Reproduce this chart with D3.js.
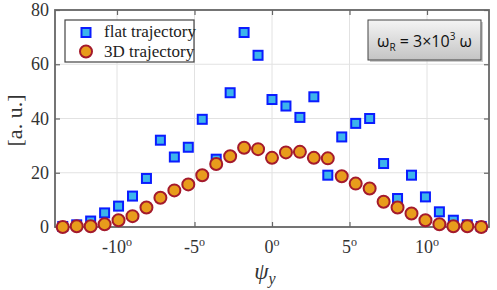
<!DOCTYPE html>
<html>
<head>
<meta charset="utf-8">
<script src="https://cdn.jsdelivr.net/npm/d3@7"></script>
<style>
  html, body { margin: 0; padding: 0; background: #fff; }
  svg { display: block; }
  text { font-family: "Liberation Serif", "Times New Roman", serif; fill: #333; }
</style>
</head>
<body>
<div id="chart"></div>
<script>
// angle psi_y in degrees
const angles = [-13.5, -12.6, -11.7, -10.8, -9.9, -9.0, -8.1, -7.2, -6.3, -5.4, -4.5, -3.6, -2.7, -1.8, -0.9,
  0, 0.9, 1.8, 2.7, 3.6, 4.5, 5.4, 6.3, 7.2, 8.1, 9.0, 9.9, 10.8, 11.7, 12.6, 13.5];
const flatVals = [0.2, 0.8, 2.2, 5.2, 7.7, 11.4, 17.9, 32.0, 25.8, 29.4, 39.7, 25.0, 49.5, 71.7, 63.3,
  47.0, 44.6, 40.4, 48.0, 19.1, 33.2, 38.2, 40.0, 23.4, 10.5, 19.1, 11.1, 5.6, 2.5, 0.8, 0.2];
const vals3D = [0, 0.3, 0.3, 1.0, 2.5, 4.0, 7.2, 10.8, 13.5, 15.7, 19.1, 23.2, 26.1, 29.2, 28.7,
  25.5, 27.5, 27.7, 25.5, 25.3, 18.7, 16.0, 14.2, 9.3, 7.2, 5.0, 2.5, 1.0, 0.3, 0.3, 0];
const xTicks = [-10, -5, 0, 5, 10];
const yTicks = [0, 20, 40, 60, 80];
const seriesNames = ['flat trajectory', '3D trajectory'];

const W = 497, H = 290;
const M = {l: 55, r: 8, t: 10, b: 63};

const svg = d3.select('#chart').append('svg')
  .attr('width', W).attr('height', H);

const x = d3.scaleLinear().domain([-14, 14]).range([M.l, W - M.r]);
const y = d3.scaleLinear().domain([0, 80]).range([H - M.b, M.t]);

const defs = svg.append('defs');
const grad = defs.append('linearGradient').attr('id', 'boxGrad')
  .attr('x1', 0).attr('y1', 0).attr('x2', 0).attr('y2', 1);
grad.append('stop').attr('offset', '0%').attr('stop-color', '#f4f4f4');
grad.append('stop').attr('offset', '100%').attr('stop-color', '#c4c4c4');

// grid
const grid = svg.append('g').attr('stroke', '#e2e2e2').attr('stroke-width', 1);
grid.selectAll('.gx').data(xTicks).enter().append('line')
  .attr('x1', d => x(d)).attr('x2', d => x(d))
  .attr('y1', y(0)).attr('y2', y(80));
grid.selectAll('.gy').data(yTicks).enter().append('line')
  .attr('x1', x(-14)).attr('x2', x(14))
  .attr('y1', d => y(d)).attr('y2', d => y(d));

// axes with inward ticks
const axColor = '#666';
const styleAxis = g => {
  g.select('.domain').remove();
  g.selectAll('.tick line').attr('stroke', axColor).attr('stroke-width', 1.2);
  g.selectAll('.tick text').remove();
};
svg.append('g').attr('transform', `translate(0,${y(0)})`)
  .call(d3.axisBottom(x).tickValues(xTicks).tickSizeInner(-5).tickSizeOuter(0)).call(styleAxis);
svg.append('g').attr('transform', `translate(0,${y(80)})`)
  .call(d3.axisTop(x).tickValues(xTicks).tickSizeInner(-5).tickSizeOuter(0)).call(styleAxis);
svg.append('g').attr('transform', `translate(${x(-14)},0)`)
  .call(d3.axisLeft(y).tickValues(yTicks).tickSizeInner(-5).tickSizeOuter(0)).call(styleAxis);
svg.append('g').attr('transform', `translate(${x(14)},0)`)
  .call(d3.axisRight(y).tickValues(yTicks).tickSizeInner(-5).tickSizeOuter(0)).call(styleAxis);

svg.append('rect')
  .attr('x', x(-14)).attr('y', y(80))
  .attr('width', x(14) - x(-14)).attr('height', y(0) - y(80))
  .attr('fill', 'none').attr('stroke', axColor).attr('stroke-width', 1.8);

// tick labels
svg.selectAll('.ylab').data(yTicks).enter().append('text')
  .attr('x', x(-14) - 6).attr('y', d => y(d) + 6)
  .attr('text-anchor', 'end').attr('font-size', 18)
  .text(d => d);

const xl = svg.selectAll('.xlab').data(xTicks).enter().append('text')
  .attr('x', d => x(d)).attr('y', y(0) + 26)
  .attr('text-anchor', 'middle').attr('font-size', 18);
xl.append('tspan').text(d => d < 0 ? '-' + Math.abs(d) : d);
xl.append('tspan').attr('font-size', 12).attr('dy', -7).text('o');

// axis titles
svg.append('text')
  .attr('transform', `translate(22,${(y(0) + y(80)) / 2 + 2}) rotate(-90)`)
  .attr('text-anchor', 'middle').attr('font-size', 22)
  .text('[a. u.]');

const xt = svg.append('text')
  .attr('x', 265).attr('y', 279)
  .attr('text-anchor', 'middle').attr('font-size', 23).attr('font-style', 'italic');
xt.append('tspan').text('ψ');
xt.append('tspan').attr('font-size', 16).attr('dy', 5).text('y');

// markers
svg.append('g').selectAll('rect').data(angles).enter().append('rect')
  .attr('x', (d, i) => x(d) - 4.5).attr('y', (d, i) => y(flatVals[i]) - 4.5)
  .attr('width', 9).attr('height', 9)
  .attr('fill', '#3cb4ec').attr('stroke', '#0a1cff').attr('stroke-width', 2);

svg.append('g').selectAll('circle').data(angles).enter().append('circle')
  .attr('cx', d => x(d)).attr('cy', (d, i) => y(vals3D[i]))
  .attr('r', 6)
  .attr('fill', '#e89c1c').attr('stroke', '#a41a2c').attr('stroke-width', 2);

// legend
const lg = svg.append('g').attr('transform', 'translate(65,20)');
lg.append('rect').attr('width', 129).attr('height', 42)
  .attr('fill', '#fff').attr('stroke', '#444').attr('stroke-width', 1.2);
lg.append('rect').attr('x', 21 - 4.5).attr('y', 12.5 - 4.5).attr('width', 9).attr('height', 9)
  .attr('fill', '#3cb4ec').attr('stroke', '#0a1cff').attr('stroke-width', 2);
lg.append('circle').attr('cx', 21).attr('cy', 31.5).attr('r', 6)
  .attr('fill', '#e89c1c').attr('stroke', '#a41a2c').attr('stroke-width', 2);
lg.selectAll('.lt').data(seriesNames).enter().append('text')
  .attr('x', 39).attr('y', (d, i) => 17 + i * 19.5)
  .attr('font-size', 17).style('fill', '#222')
  .text(d => d);

// annotation box
const ab = svg.append('g').attr('transform', 'translate(368,20)');
ab.append('rect').attr('x', 2).attr('y', 2).attr('width', 113).attr('height', 40)
  .attr('fill', '#999').attr('opacity', 0.5);
ab.append('rect').attr('width', 113).attr('height', 40)
  .attr('fill', 'url(#boxGrad)').attr('stroke', '#444').attr('stroke-width', 1);
const at = ab.append('text').attr('x', 56.5).attr('y', 27)
  .attr('text-anchor', 'middle').attr('font-size', 16)
  .style('font-family', '"Open Sans", "Liberation Sans", sans-serif').style('fill', '#111');
at.append('tspan').text('ω');
at.append('tspan').attr('font-size', 10).attr('dy', 4).text('R');
at.append('tspan').attr('dy', -4).text(' = 3×10');
at.append('tspan').attr('font-size', 10).attr('dy', -7).text('3');
at.append('tspan').attr('dy', 7).text(' ω');
</script>
</body>
</html>
